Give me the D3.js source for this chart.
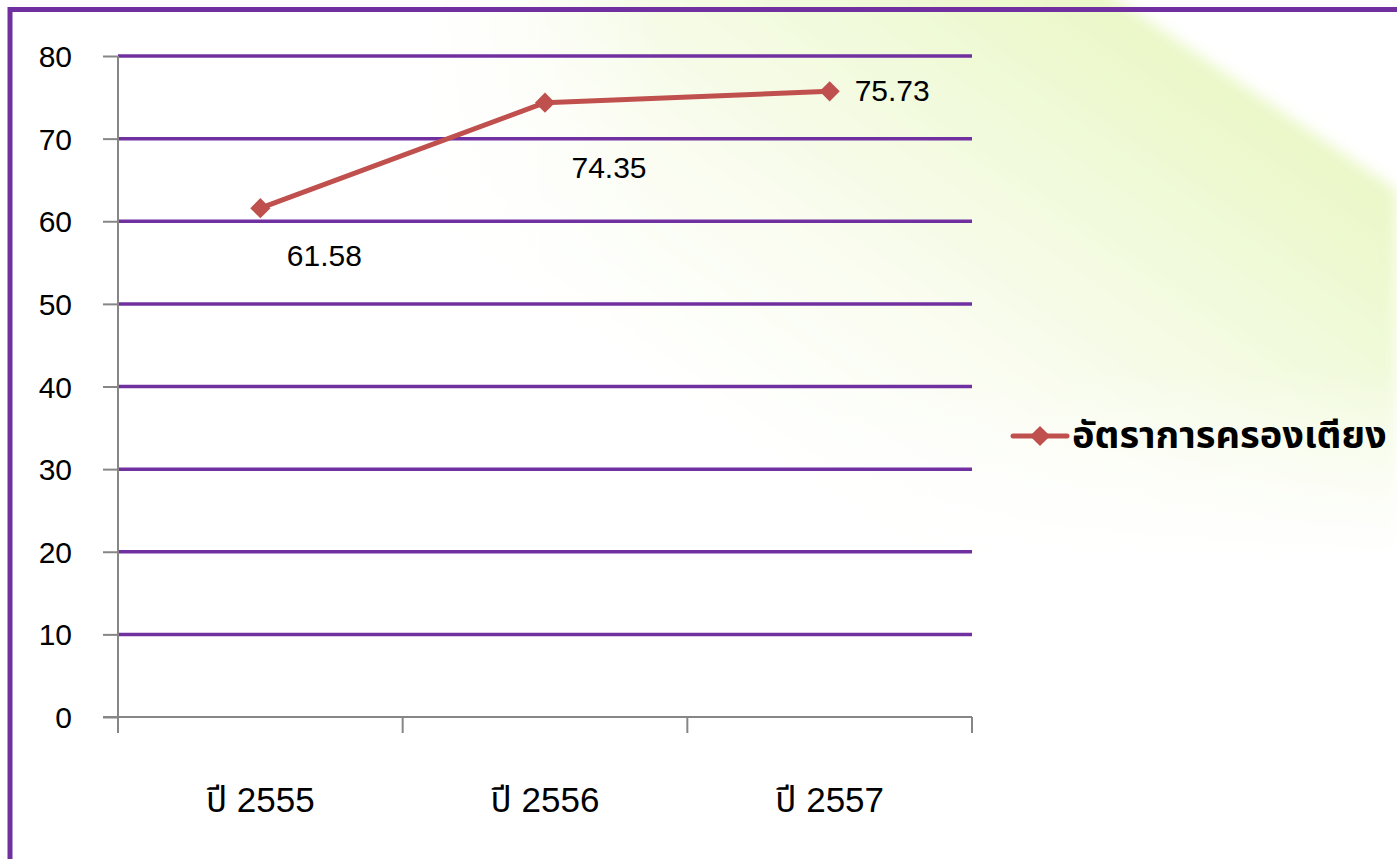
<!DOCTYPE html>
<html>
<head>
<meta charset="utf-8">
<script src="https://cdn.jsdelivr.net/npm/d3@7"></script>
<style>
  html, body { margin: 0; padding: 0; background: #fff; }
  svg { display: block; }
  text { font-family: "Liberation Sans", Arial, "Noto Sans Thai", sans-serif; }
</style>
</head>
<body>
<div id="chart"></div>
<script>
// chart data
var years = ["ปี 2555", "ปี 2556", "ปี 2557"];
var bedRate = [61.58, 74.35, 75.73];
var yTicks = [0, 10, 20, 30, 40, 50, 60, 70, 80];
var seriesName = "อัตราการครองเตียง";

// label placement, as set by hand in the original (dx, dy from the point)
var labelOffset = [[64, 58], [64, 75], [25, 10]];
var labelAnchor = ["middle", "middle", "start"];

var width = 1397, height = 859;
var purple = "#7030a0", red = "#c0504d", grey = "#868686";

var svg = d3.select("#chart").append("svg")
    .attr("width", width)
    .attr("height", height);

// soft green slide background, soft edge on the upper right, fading out elsewhere
var defs = svg.append("defs");
var grad = defs.append("linearGradient")
    .attr("id", "bgGreen")
    .attr("gradientUnits", "userSpaceOnUse")
    .attr("x1", 1240).attr("y1", 105)
    .attr("x2", 1240 - 0.565 * 560).attr("y2", 105 + 0.825 * 560);
grad.append("stop").attr("offset", "0").attr("stop-color", "#ebf8c9");
grad.append("stop").attr("offset", "0.3").attr("stop-color", "#f2fadd");
grad.append("stop").attr("offset", "0.65").attr("stop-color", "#fafdf1");
grad.append("stop").attr("offset", "1").attr("stop-color", "#ffffff");

defs.append("filter")
    .attr("id", "soft")
    .attr("x", "-5%").attr("y", "-5%").attr("width", "110%").attr("height", "110%")
    .append("feGaussianBlur").attr("stdDeviation", 7);

var fadeLeft = defs.append("linearGradient")
    .attr("id", "fadeLeft")
    .attr("x1", "0").attr("y1", "0").attr("x2", "1").attr("y2", "0");
fadeLeft.append("stop").attr("offset", "0").attr("stop-color", "#fff").attr("stop-opacity", 1);
fadeLeft.append("stop").attr("offset", "1").attr("stop-color", "#fff").attr("stop-opacity", 0);

var fadeDown = defs.append("linearGradient")
    .attr("id", "fadeDown")
    .attr("x1", "0").attr("y1", "0").attr("x2", "0").attr("y2", "1");
fadeDown.append("stop").attr("offset", "0").attr("stop-color", "#fff").attr("stop-opacity", 0);
fadeDown.append("stop").attr("offset", "1").attr("stop-color", "#fff").attr("stop-opacity", 1);

svg.append("path")
    .attr("d", "M300,-40 L1060,-40 L1397,190 L1397,900 L300,900 Z")
    .attr("fill", "url(#bgGreen)")
    .attr("filter", "url(#soft)");
svg.append("rect")
    .attr("x", 0).attr("y", 0).attr("width", 420).attr("height", height)
    .attr("fill", "#fff");
svg.append("rect")
    .attr("x", 420).attr("y", 0).attr("width", 240).attr("height", height)
    .attr("fill", "url(#fadeLeft)");
svg.append("rect")
    .attr("x", 300).attr("y", 370).attr("width", width - 300).attr("height", 190)
    .attr("fill", "url(#fadeDown)");
svg.append("rect")
    .attr("x", 300).attr("y", 560).attr("width", width - 300).attr("height", height - 560)
    .attr("fill", "#fff");

// purple frame running off right and bottom
svg.append("path")
    .attr("d", "M10," + height + " L10,9.5 L" + width + ",9.5")
    .attr("fill", "none")
    .attr("stroke", purple)
    .attr("stroke-width", 5);

var x = d3.scaleBand()
    .domain(years)
    .range([118, 972]);

var y = d3.scaleLinear()
    .domain([0, 80])
    .range([717, 56]);

// gridlines
svg.append("g")
    .selectAll("line")
    .data(yTicks.filter(function (d) { return d > 0; }))
    .join("line")
    .attr("x1", 118).attr("x2", 972)
    .attr("y1", function (d) { return y(d); })
    .attr("y2", function (d) { return y(d); })
    .attr("stroke", purple)
    .attr("stroke-width", 3.5);

// y axis
var yAxis = svg.append("g")
    .attr("transform", "translate(118,0)")
    .call(d3.axisLeft(y).tickValues(yTicks).tickSize(15).tickPadding(31));
yAxis.select(".domain").attr("stroke", grey).attr("stroke-width", 2).attr("d", "M0,717V56");
yAxis.selectAll(".tick line").attr("stroke", grey).attr("stroke-width", 2);
yAxis.selectAll(".tick text")
    .attr("fill", "#000")
    .attr("dy", "0.35em")
    .style("font-size", "30px")
    .style("font-family", "'Liberation Sans', Arial, sans-serif");

// x axis
var xAxis = svg.append("g")
    .attr("transform", "translate(0,717)");
xAxis.append("line")
    .attr("x1", 103).attr("x2", 972)
    .attr("stroke", grey).attr("stroke-width", 2);
xAxis.selectAll(".xtick")
    .data(x.domain().map(function (d) { return x(d); }).concat([972]))
    .join("line")
    .attr("class", "xtick")
    .attr("x1", function (d) { return d; })
    .attr("x2", function (d) { return d; })
    .attr("y1", 0).attr("y2", 16)
    .attr("stroke", grey).attr("stroke-width", 2);
xAxis.selectAll(".xlabel")
    .data(years)
    .join("text")
    .attr("class", "xlabel")
    .attr("x", function (d) { return x(d) + x.bandwidth() / 2; })
    .attr("y", 95)
    .attr("text-anchor", "middle")
    .style("font-size", "35px")
    .attr("fill", "#000")
    .text(function (d) { return d; });

// series line
var pts = years.map(function (d, i) {
    return { cat: d, v: bedRate[i], off: labelOffset[i], anchor: labelAnchor[i] };
});
var cx = function (d) { return x(d.cat) + x.bandwidth() / 2; };

svg.append("path")
    .datum(pts)
    .attr("fill", "none")
    .attr("stroke", red)
    .attr("stroke-width", 5)
    .attr("stroke-linejoin", "round")
    .attr("d", d3.line().x(cx).y(function (d) { return y(d.v); }));

var diamond = d3.symbol().type(d3.symbolDiamond2).size(260);
svg.append("g")
    .selectAll("path")
    .data(pts)
    .join("path")
    .attr("transform", function (d) { return "translate(" + cx(d) + "," + y(d.v) + ")"; })
    .attr("d", diamond)
    .attr("fill", red);

// data labels
svg.append("g")
    .selectAll("text")
    .data(pts)
    .join("text")
    .attr("x", function (d) { return cx(d) + d.off[0]; })
    .attr("y", function (d) { return y(d.v) + d.off[1]; })
    .attr("text-anchor", function (d) { return d.anchor; })
    .style("font-size", "30px")
    .attr("fill", "#000")
    .text(function (d) { return d.v.toFixed(2); });

// legend
var lg = svg.append("g").attr("transform", "translate(1013,436)");
lg.append("line")
    .attr("x1", 0).attr("x2", 54)
    .attr("stroke", red).attr("stroke-width", 5)
    .attr("stroke-linecap", "round");
lg.append("path")
    .attr("transform", "translate(27,0)")
    .attr("d", diamond)
    .attr("fill", red);
lg.append("text")
    .attr("x", 59)
    .attr("y", 12)
    .style("font-size", "38px")
    .style("font-weight", "bold")
    .attr("fill", "#000")
    .text(seriesName);
</script>
</body>
</html>
